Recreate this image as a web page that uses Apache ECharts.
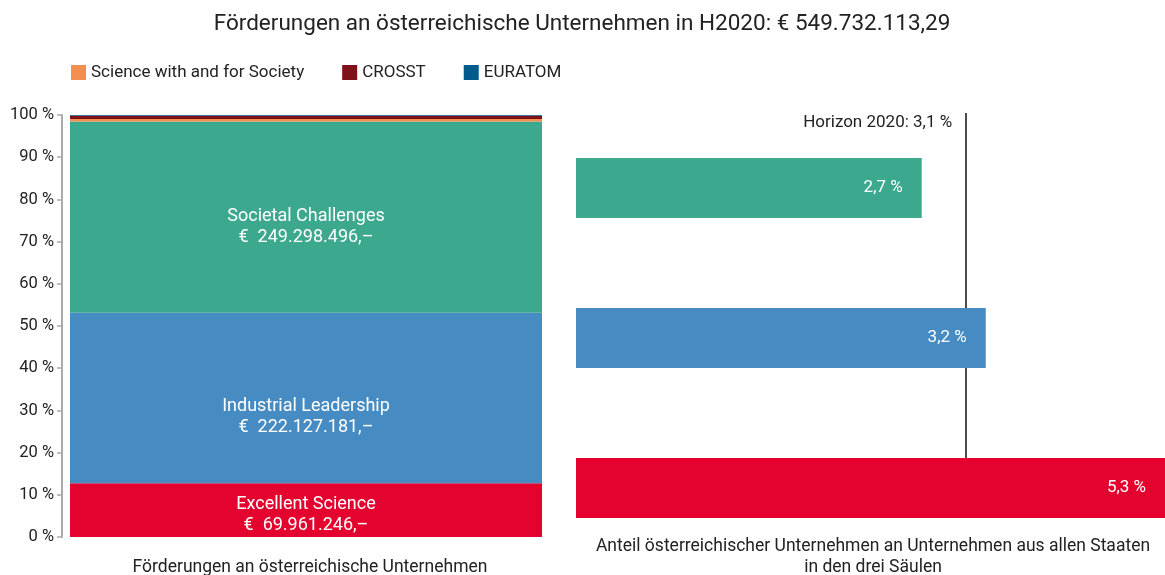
<!DOCTYPE html>
<html>
<head>
<meta charset="utf-8">
<script src="https://cdn.jsdelivr.net/npm/echarts@6/dist/echarts.min.js"></script>
<style>
  html, body { margin: 0; padding: 0; background: #fff; }
  #main { width: 1165px; height: 575px; }
</style>
</head>
<body>
<div id="main"></div>
<script>
// Förderungen in Euro (H2020)
var total = 549732113.29;
var pillarNames = ['Excellent Science', 'Industrial Leadership', 'Societal Challenges'];
var pillarAmounts = [69961246, 222127181, 249298496];
var smallNames = ['Science with and for Society', 'CROSST', 'EURATOM'];
var smallAmounts = [3000000, 4400000, 945190]; // geschätzt, Rest bis zur Summe

// Anteil österreichischer Unternehmen je Säule (%)
var shareValues = [5.3, 3.2, 2.7];
var h2020Share = 3.1;

var yTicks = [0, 10, 20, 30, 40, 50, 60, 70, 80, 90, 100];

var pillarColors = ['#e4032e', '#468bc2', '#3ca88e'];
var smallColors = ['#f28f4f', '#7f1118', '#005b8c'];
var labelOffsets = [[0, 5], [0, 19], [0, 10]];
var font = 'Roboto';

function euro(v) {
    return '€  ' + v.toLocaleString('de-DE') + ',–';
}

var series = [];
pillarNames.forEach(function (n, i) {
    series.push({
        name: n, type: 'bar', stack: 'foerd', barWidth: '100%',
        xAxisIndex: 0, yAxisIndex: 0,
        itemStyle: { color: pillarColors[i] },
        label: {
            show: true, position: 'inside', color: '#fff', fontSize: 18, lineHeight: 21,
            fontFamily: font, offset: labelOffsets[i],
            formatter: n + '\n' + euro(pillarAmounts[i])
        },
        data: [pillarAmounts[i] / total * 100]
    });
});
smallNames.forEach(function (n, i) {
    series.push({
        name: n, type: 'bar', stack: 'foerd', barWidth: '100%',
        xAxisIndex: 0, yAxisIndex: 0,
        itemStyle: { color: smallColors[i] },
        data: [smallAmounts[i] / total * 100]
    });
});

// rechte Grafik
series.push({
    name: 'Anteil', type: 'bar', xAxisIndex: 1, yAxisIndex: 1, barWidth: 60, z: 3,
    data: shareValues.map(function (v, i) {
        return { value: v, itemStyle: { color: pillarColors[i] } };
    }),
    label: {
        show: true, position: 'insideRight', distance: 19, color: '#fff', fontSize: 17,
        fontFamily: font,
        formatter: function (p) { return String(p.value).replace('.', ',') + ' %'; }
    }
});
series.push({
    name: 'Horizon', type: 'line', xAxisIndex: 2, yAxisIndex: 2, z: 1, data: [],
    markLine: {
        silent: true, symbol: 'none', animation: false, z: 1,
        lineStyle: { color: '#111', width: 1.5, type: 'solid' },
        label: {
            show: true, position: 'end', distance: 0, align: 'right', verticalAlign: 'top',
            padding: [1, 14, 0, 0], color: '#222', fontSize: 17, fontFamily: font,
            formatter: 'Horizon 2020: ' + String(h2020Share).replace('.', ',') + ' %'
        },
        data: [{ xAxis: h2020Share }]
    }
});

var myChart = echarts.init(document.getElementById('main'));
var option = {
    animation: false,
    textStyle: { fontFamily: font },
    title: [
        { text: 'Förderungen an österreichische Unternehmen in H2020: € ' + total.toLocaleString('de-DE', {minimumFractionDigits: 2}),
          left: 577, top: 8, textAlign: 'center',
          textStyle: { fontSize: 22.5, fontWeight: 'normal', color: '#222', fontFamily: font } },
        { text: 'Förderungen an österreichische Unternehmen', left: 305, top: 554, textAlign: 'center',
          textStyle: { fontSize: 17.5, fontWeight: 'normal', color: '#222', fontFamily: font } },
        { text: 'Anteil österreichischer Unternehmen an Unternehmen aus allen Staaten\nin den drei Säulen',
          left: 868, top: 531, textAlign: 'center',
          textStyle: { fontSize: 17.5, fontWeight: 'normal', color: '#222', lineHeight: 21, fontFamily: font } }
    ],
    legend: {
        data: smallNames, left: 66, top: 59, itemWidth: 15, itemHeight: 15, itemGap: 38,
        icon: 'rect', textStyle: { fontSize: 17, color: '#222', fontFamily: font }
    },
    grid: [
        { left: 70, top: 115, width: 472, height: 422 },
        { left: 576, top: 113, right: 0, height: 450 },
        { left: 576, top: 113, right: 0, height: 345 }
    ],
    xAxis: [
        { type: 'category', gridIndex: 0, data: ['H2020'], show: false },
        { type: 'value', gridIndex: 1, min: 0, max: 4.6, show: false },
        { type: 'value', gridIndex: 2, min: 0, max: 4.68, show: false }
    ],
    yAxis: [
        { type: 'value', gridIndex: 0, min: yTicks[0], max: yTicks[yTicks.length - 1], interval: 10, offset: 8,
          axisLine: { show: true, lineStyle: { color: '#aaa', width: 2 } },
          axisTick: { show: true, length: 5, lineStyle: { color: '#aaa', width: 1.5 } },
          splitLine: { show: false },
          axisLabel: { formatter: '{value} %', color: '#222', fontSize: 16.5, margin: 8, fontFamily: font } },
        { type: 'category', gridIndex: 1, data: pillarNames, show: false },
        { type: 'value', gridIndex: 2, min: 0, max: 1, show: false }
    ],
    series: series
};
myChart.setOption(option);
</script>
</body>
</html>
